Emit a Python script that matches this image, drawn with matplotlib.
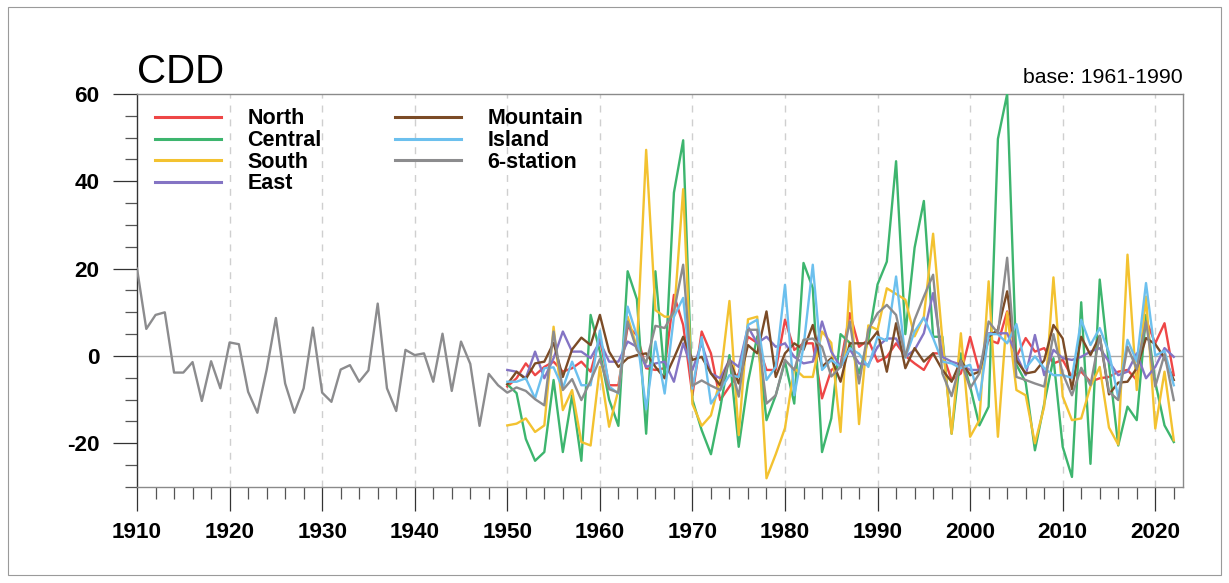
import numpy as np
import matplotlib
matplotlib.use("Agg")
import matplotlib.pyplot as plt
from matplotlib.ticker import MultipleLocator
from matplotlib.patches import Rectangle

plt.rcParams['font.family'] = ['Liberation Sans', 'DejaVu Sans']
plt.rcParams['axes.unicode_minus'] = False

# ---- data: CDD anomalies (days), base period 1961-1990 ----
years_long = list(range(1910, 2023))
years_reg = list(range(1950, 2023))

north = [-7.0, -5.1, -1.7, -4.4, -2.5, -1.3, -3.6, -2.8, -1.3, -3.6,
         4.1, -6.7, -6.7, 6.7, 4.8, -2.8, -3.2, -2.8, 14.0, 7.1,
         -9.0, 5.6, 0.6, -10.1, -7.0, -4.0, 4.4, 3.0, -3.2, -3.2,
         8.3, 1.4, 2.9, 2.9, -9.7, -3.2, -2.0, 9.8, 2.1, 3.7,
         -1.3, -0.2, 2.9, 0.0, -1.7, -3.2, 0.6, 0.6, -5.5, -4.0,
         4.4, -3.6, 3.7, 2.9, 10.2, -0.2, 4.1, 1.0, 1.8, -1.7,
         -0.9, -4.8, -3.6, -5.9, -5.1, -4.8, -3.6, -3.2, -5.5, 8.3,
         2.9, 7.5, -4.4]

central = [-6.5, -8.5, -19.0, -24.0, -22.0, -5.5, -22.0, -9.0, -24.0, 9.4,
           1.0, -10.0, -16.0, 19.4, 13.0, -17.8, 19.4, -5.0, 37.4, 49.4,
           -10.0, -17.0, -22.5, -12.0, 0.2, -20.8, -6.0, 4.5, -14.7, -9.0,
           -1.3, -10.9, 21.3, 15.6, -22.0, -14.3, 5.0, 3.0, -4.0, 3.7,
           16.4, 21.6, 44.6, 5.0, 24.8, 35.5, 4.4, 4.4, -17.8, 0.6,
           -7.0, -15.9, -11.6, 49.7, 60.0, -2.0, -6.0, -21.6, -11.0, -0.5,
           -20.8, -27.7, 12.3, -24.7, 17.5, -2.0, -20.5, -11.6, -14.7, 9.4,
           -6.0, -15.9, -19.7]

south = [-15.9, -15.5, -14.3, -17.4, -15.9, 6.7, -12.4, -7.8, -19.7, -20.5,
         -2.5, -16.2, -7.8, 9.0, 2.0, 47.2, 10.5, 9.0, 9.0, 38.2,
         -11.0, -16.0, -13.6, -5.4, 12.6, -18.1, 8.4, 9.0, -28.0, -22.5,
         -16.5, -2.8, -4.8, -4.8, 5.6, 3.0, -17.4, 17.1, -15.6, 7.0,
         6.0, 15.5, 14.2, 12.9, 4.5, 9.0, 28.0, 3.7, -17.8, 5.2,
         -18.5, -14.7, 17.1, -18.5, 10.0, -7.8, -9.0, -20.0, -11.6, 18.0,
         -9.3, -14.7, -14.3, -7.0, -2.5, -16.4, -20.3, 23.2, -7.8, 13.6,
         -16.6, -3.6, -19.3]

east = [-3.2, -3.6, -5.1, 1.0, -5.1, -0.5, 5.6, 1.0, 1.0, -0.5,
        3.3, -1.3, -1.3, 3.3, 2.1, -2.5, -1.7, -1.3, -5.9, 2.9,
        -3.2, 2.9, -4.0, -5.1, -0.9, -2.5, 6.7, 2.9, 4.4, 2.1,
        2.9, -0.2, -1.7, -1.3, 7.9, 1.0, -2.5, 1.5, -1.7, -2.0,
        2.1, 4.0, 4.0, -0.2, 1.4, 5.2, 14.4, -0.2, -1.3, -2.0,
        -3.2, -3.2, 5.2, 5.2, 5.2, 0.2, -4.4, 4.8, -4.4, 1.4,
        -0.5, -0.9, -0.2, 1.0, 1.8, -1.3, -4.4, -3.6, 0.6, -5.1,
        -2.5, 1.8, -0.2]

mountain = [-6.5, -3.6, -5.3, -1.7, -1.3, 3.0, -4.8, 1.5, 4.2, 2.5,
            9.4, 1.0, -2.5, -0.5, 0.2, 0.6, -2.5, -5.1, -0.5, 4.4,
            -0.9, -0.2, -4.0, -6.7, -0.9, -6.3, 2.5, 0.6, 10.2, -4.8,
            0.6, 2.9, 1.4, 7.1, -2.5, -0.5, -5.9, 2.9, 2.9, 2.9,
            5.6, -3.6, 7.5, -2.8, 1.8, -1.3, 0.6, -3.2, -5.9, -1.0,
            -4.4, -3.6, 4.4, 6.0, 14.8, -1.0, -4.0, -3.6, -1.0, 7.1,
            4.0, -7.6, 4.4, 0.2, 4.6, -8.8, -6.1, -5.9, -2.8, 4.1,
            2.7, -0.4, -5.5]

island = [-5.9, -5.9, -5.1, -9.7, -2.8, -2.6, -7.4, -1.3, -6.7, -6.7,
          5.8, -7.0, -8.6, 11.3, 4.6, -12.2, 3.3, -8.6, 9.0, 13.3,
          -7.5, 4.3, -10.9, -7.8, -4.4, -4.8, 7.1, 8.3, -5.5, -2.5,
          16.3, -9.0, 2.1, 20.9, -3.2, -0.9, -2.5, 1.8, 0.5, -2.5,
          4.4, 3.5, 18.2, -0.4, 5.6, 8.8, 4.1, -1.3, -1.7, -2.8,
          -2.0, -10.1, 5.0, 5.0, 2.9, 7.3, -2.8, -0.1, -2.8, -4.4,
          -4.4, -5.0, 8.3, 2.5, 6.4, 0.8, -9.5, 3.7, -1.3, 16.7,
          0.1, 1.2, -6.7]

six_station = [20.0, 6.2, 9.4, 10.0, -3.8, -3.8, -1.4, -10.3, -1.2, -7.4,
               3.1, 2.7, -8.2, -13.0, -3.2, 8.7, -6.3, -13.0, -7.4, 6.5,
               -8.4, -10.5, -3.1, -2.1, -5.9, -3.3, 12.0, -7.4, -12.6, 1.4,
               0.2, 0.6, -5.9, 5.1, -8.0, 3.3, -1.8, -16.0, -4.1, -6.7,
               -8.4, -7.2, -8.0, -9.9, -11.3, 5.6, -7.8, -5.3, -10.1, -5.7,
               -0.7, -7.6, -8.4, 7.9, 1.4, -1.5, 6.9, 6.4, 10.2, 20.9,
               -6.8, -5.6, -6.8, -7.8, -0.9, -9.3, 6.0, 6.0, -10.9, -9.0,
               -0.9, -3.2, 3.7, 4.0, 2.1, -4.7, -2.5, 7.9, -6.3, 6.0,
               9.8, 11.7, 9.4, -0.2, 8.3, 13.6, 18.6, -4.0, -9.2, -1.0,
               -7.4, -4.0, 7.9, 5.2, 22.5, -4.8, -5.5, -6.3, -7.0, 5.0,
               -4.0, -9.0, -2.7, -6.7, 4.6, -8.2, -10.1, 2.1, -3.0, 7.9,
               -7.0, 0.4, -10.1]

labels = ["North", "Central", "South", "East", "Mountain", "Island", "6-station"]
colors = ["#EE4646", "#3DB56E", "#F3C230", "#8474C4", "#7B4B26", "#6CC0EE", "#8C8C8E"]

# ---- figure ----
fig = plt.figure(figsize=(12.29, 5.83), dpi=100)
ax = fig.add_axes([0.1115, 0.1647, 0.8511, 0.6741])

ax.set_xlim(1910, 2023)
ax.set_ylim(-30, 60)

# decade guide lines and zero line
for yr in range(1920, 2030, 10):
    ax.axvline(yr, color="#cfcfcf", lw=1.0, ls=(0, (5, 5)), zorder=1)
ax.axhline(0, color="#a8a8a8", lw=1.0, zorder=1)

series = [north, central, south, east, mountain, island]
for vals, lab, col in zip(series, labels[:6], colors[:6]):
    ax.plot(years_reg, vals, color=col, lw=1.7, label=lab, zorder=3)
ax.plot(years_long, six_station, color=colors[6], lw=1.7, label=labels[6], zorder=4)

# ticks
ax.xaxis.set_major_locator(MultipleLocator(10))
ax.xaxis.set_minor_locator(MultipleLocator(2))
ax.yaxis.set_major_locator(MultipleLocator(20))
ax.yaxis.set_minor_locator(MultipleLocator(5))
ax.tick_params(axis="both", which="major", direction="out", length=17, width=0.9,
               color="#333333", labelsize=16.2, pad=8)
ax.tick_params(axis="both", which="minor", direction="out", length=8.5, width=0.9,
               color="#555555")
ax.tick_params(axis="y", which="major", pad=10)
for lbl in ax.get_xticklabels() + ax.get_yticklabels():
    lbl.set_fontweight("bold")

for side in ["top", "right", "bottom"]:
    ax.spines[side].set_color("#8a8a8a")
ax.spines["left"].set_color("#333333")
for sp in ax.spines.values():
    sp.set_linewidth(1.0)

# legend in two columns
leg = ax.legend(ncol=2, loc="upper left", bbox_to_anchor=(0.0086, 0.985),
                frameon=False, handlelength=3.1, handletextpad=1.2,
                columnspacing=3.4, labelspacing=0.03, borderaxespad=0.0,
                prop={"weight": "bold", "size": 15.5})
for h in leg.get_lines():
    h.set_linewidth(2.2)

# titles
fig.text(0.1115, 0.858, "CDD", fontsize=29, ha="left", va="baseline")
fig.text(0.9626, 0.858, "base: 1961-1990", fontsize=15.3, ha="right", va="baseline")

# outer frame
fig.patches.append(Rectangle((0.0065, 0.013), 0.987, 0.975, transform=fig.transFigure,
                             fill=False, edgecolor="#9a9a9a", lw=0.8))

fig.savefig("out.png", dpi=100)
